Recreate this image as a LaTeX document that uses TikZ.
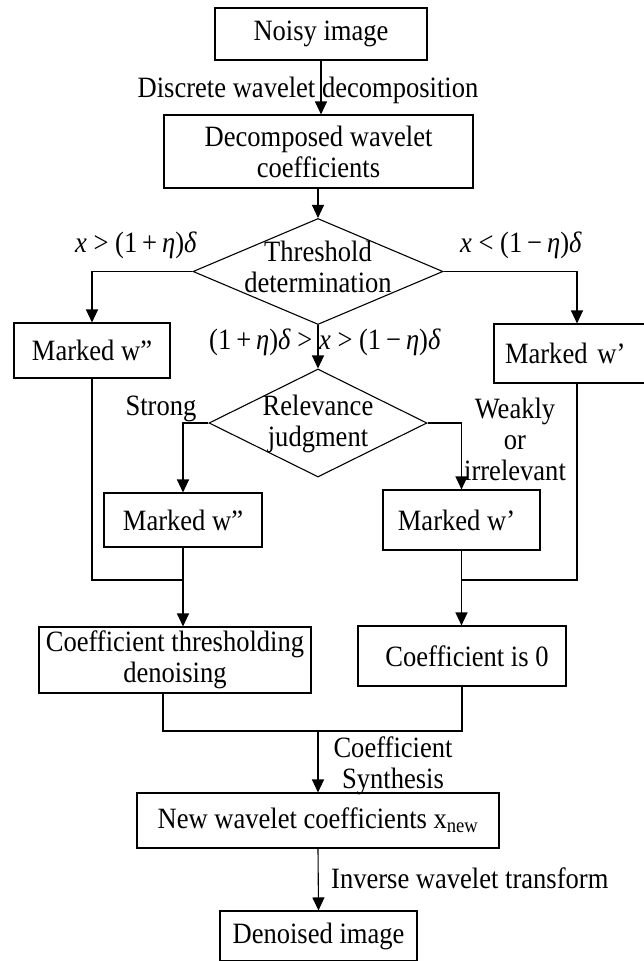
\documentclass[tikz,border=0pt]{standalone}
\usepackage{fontspec}
\setmainfont[FakeStretch=0.9]{Liberation Serif}
\usetikzlibrary{arrows.meta,shapes.geometric}
\begin{document}
\begin{tikzpicture}[x=1pt,y=-1pt,
  every node/.style={font=\fontsize{29.5}{31}\selectfont},
  box/.style={draw, line width=1.1pt, inner sep=0pt, align=center},
  dia/.style={draw, diamond, line width=1.1pt, inner sep=0pt},
  txt/.style={inner sep=0pt, align=center},
  ln/.style={line width=1.1pt},
  arr/.style={line width=1.1pt, -{Triangle[length=13pt,width=12pt]}}]
\useasboundingbox (0,0) rectangle (644,961);
\clip (0,0) rectangle (644,961);
% boxes
\node[box, minimum width=212, minimum height=52] (n1) at (321,34) {Noisy image};
\node[box, minimum width=309, minimum height=73] (n2) at (318.5,151.5) {Decomposed wavelet\\coefficients};
\node[dia, minimum width=250, minimum height=106] (d1) at (318,271.5) {};
\node[txt] (d1t) at (318,267) {Threshold\\determination};
\node[box, minimum width=156, minimum height=55] (m1) at (92,350.5) {Marked w”};
\node[box, minimum width=166, minimum height=59, text width=144, inner xsep=11, align=left] (m2) at (577,353.5) {Marked w’};
\node[dia, minimum width=218, minimum height=108] (d2) at (318,423) {};
\node[txt] (d2t) at (318,424) {Relevance\\judgment};
\node[box, minimum width=158, minimum height=54] (m3) at (183,520) {Marked w”};
\node[box, minimum width=157, minimum height=60] (m4) at (461.5,520) {Marked w’\hspace{10pt}};
\node[box, minimum width=272, minimum height=66] (ct) at (175,660) {Coefficient thresholding\\denoising};
\node[box, minimum width=208, minimum height=60] (cz) at (462,656) {\hspace{10pt}Coefficient is 0};
\node[box, minimum width=362, minimum height=55] (nw) at (318,820.5) {New wavelet coefficients x\textsubscript{new}};
\node[box, minimum width=197, minimum height=50] (dn) at (318.5,936) {Denoised image};
% connectors
\draw[arr] (n1.south) -- (n1.south |- n2.north);
\draw[arr] (d1.north |- n2.south) -- (d1.north);
\draw[arr] (d1.west) -| (m1.north);
\draw[arr] (d1.east) -| (m2.north);
\draw[arr] (d1.south) -- (d2.north);
\draw[arr] (d2.west) -| (m3.north);
\draw[arr] (d2.east) -| (m4.north);
\coordinate (jl) at (183,580);
\coordinate (jr) at (462,580);
\draw[ln] (m1.south) |- (jl);
\draw[ln] (m2.south) |- (jr);
\draw[arr] (m3.south) -- (m3.south |- ct.north);
\draw[arr] (m4.south) -- (m4.south |- cz.north);
\coordinate (jb) at (318,731);
\draw[ln] ([xshift=-12pt]ct.south) |- (jb) -| (cz.south);
\draw[arr] (jb) -- (nw.north);
\draw[arr] (nw.south) -- (dn.north);
% labels
\node[txt, anchor=base] (l1) at (308,97) {Discrete wavelet decomposition};
\node[txt] (l2) at (136,245) {\textit{x} > (1\,+\,\textit{η})\textit{δ}};
\node[txt] (l3) at (521,245) {\textit{x} < (1\,−\,\textit{η})\textit{δ}};
\node[txt] (l4) at (325,342) {(1\,+\,\textit{η})\textit{δ} > \textit{x} > (1\,−\,\textit{η})\textit{δ}};
\node[txt, anchor=base] (l5) at (161,415) {Strong};
\node[txt] (l6) at (515,439) {Weakly\\or\\irrelevant};
\node[txt] (l7) at (393,766) {Coefficient\\Synthesis};
\node[txt, anchor=west] (l8) at (331,878) {Inverse wavelet transform};
\end{tikzpicture}
\end{document}
